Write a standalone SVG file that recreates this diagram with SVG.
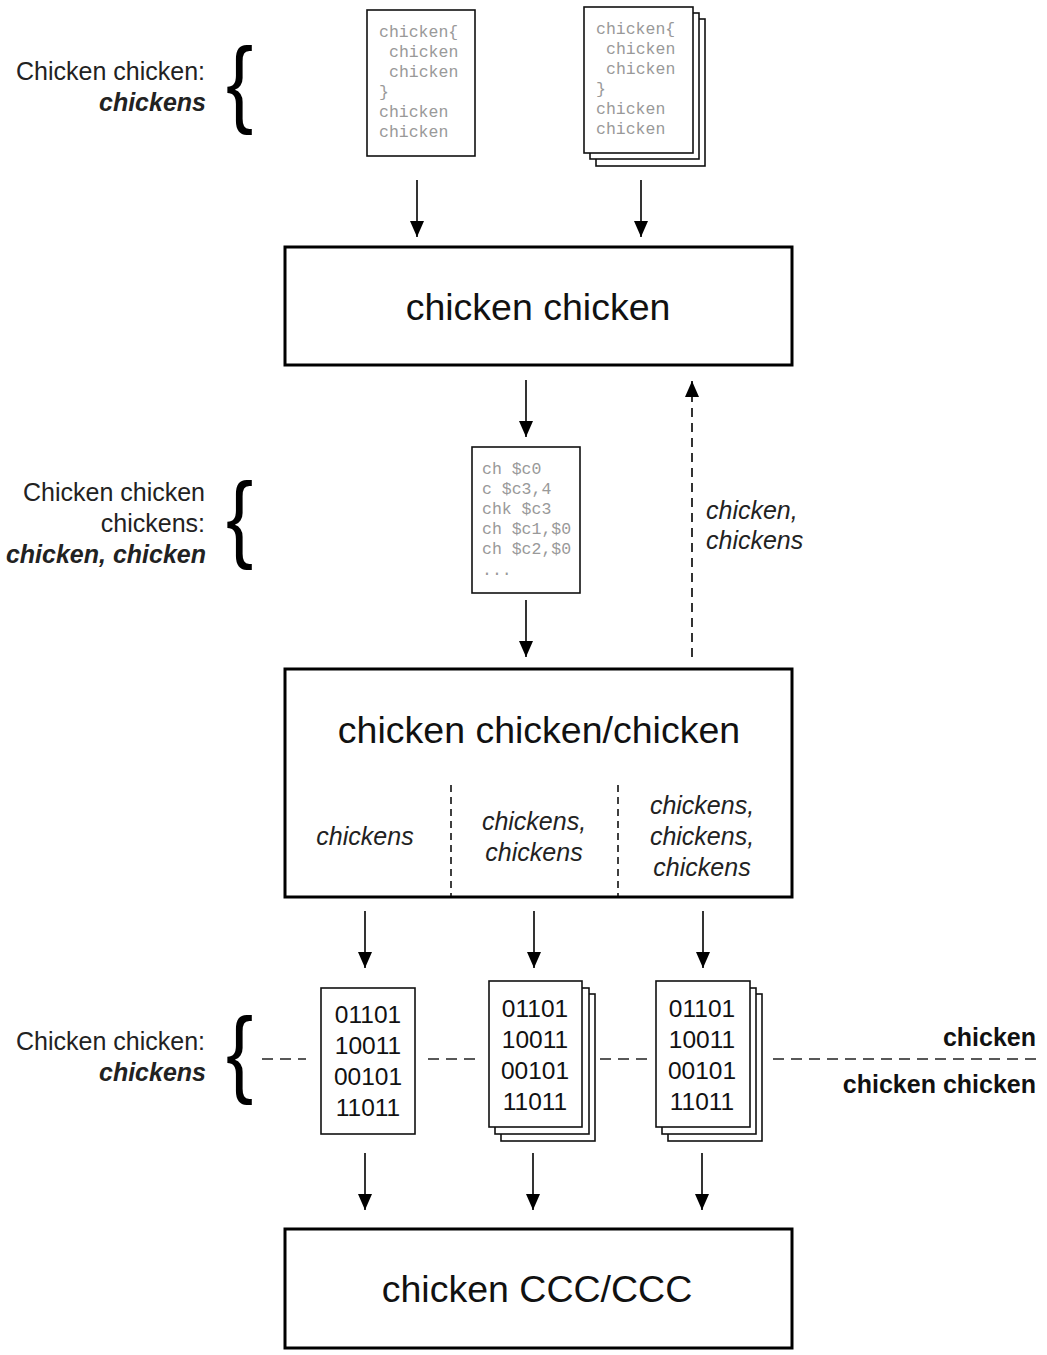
<svg xmlns="http://www.w3.org/2000/svg" width="1047" height="1355" viewBox="0 0 1047 1355">
<defs>
<marker id="ah" markerUnits="userSpaceOnUse" markerWidth="16" markerHeight="14" viewBox="0 0 16 14" refX="16" refY="7" orient="auto">
<path d="M0,0 L16,7 L0,14 z" fill="#000"/>
</marker>
<style>
.box{fill:#fff;stroke:#000;stroke-width:3}
.doc{fill:#fff;stroke:#111;stroke-width:1.6}
.arr{stroke:#000;stroke-width:1.6;fill:none;marker-end:url(#ah)}
.dash{stroke:#222;stroke-width:1.6;fill:none;stroke-dasharray:11,7}
.vd{stroke:#111;stroke-width:1.6;fill:none;stroke-dasharray:7,5}
.mono{font-family:"Liberation Mono","DejaVu Sans Mono",monospace;font-size:16.5px;fill:#999}
.title{font-family:"Liberation Sans",Arial,sans-serif;font-size:37.5px;fill:#111;text-anchor:middle}
.lbl{font-family:"Liberation Sans",Arial,sans-serif;font-size:25px;fill:#222;text-anchor:end}
.bi{font-weight:bold;font-style:italic}
.it{font-family:"Liberation Sans",Arial,sans-serif;font-size:25px;fill:#222;font-style:italic}
.bin{font-family:"Liberation Sans",Arial,sans-serif;font-size:24.5px;fill:#111;text-anchor:middle}
.bold{font-family:"Liberation Sans",Arial,sans-serif;font-size:25px;fill:#111;font-weight:bold;text-anchor:end}
.brace{font-family:"Liberation Sans",Arial,sans-serif;font-size:96px;fill:#000}
</style>
</defs>

<g id="labels-left">
<text class="lbl" x="205" y="80">Chicken chicken:</text>
<text class="lbl bi" x="206" y="111">chickens</text>
<text class="brace" transform="translate(226,115) scale(0.85,1)">{</text>

<text class="lbl" x="205" y="501">Chicken chicken</text>
<text class="lbl" x="205" y="532">chickens:</text>
<text class="lbl bi" x="206" y="563">chicken, chicken</text>
<text class="brace" transform="translate(226,550) scale(0.85,1)">{</text>

<text class="lbl" x="205" y="1050">Chicken chicken:</text>
<text class="lbl bi" x="206" y="1081">chickens</text>
<text class="brace" transform="translate(226,1085) scale(0.85,1)">{</text>
</g>

<g id="connectors">
<line class="arr" x1="417" y1="180" x2="417" y2="237"/>
<line class="arr" x1="641" y1="180" x2="641" y2="237"/>
<line class="arr" x1="526" y1="380" x2="526" y2="437"/>
<line class="arr" x1="526" y1="600" x2="526" y2="657"/>
<line class="arr" x1="692" y1="657" x2="692" y2="381" style="stroke-dasharray:9,6"/>
<line class="arr" x1="365" y1="911" x2="365" y2="968"/>
<line class="arr" x1="534" y1="911" x2="534" y2="968"/>
<line class="arr" x1="703" y1="911" x2="703" y2="968"/>
<line class="arr" x1="365" y1="1153" x2="365" y2="1210"/>
<line class="arr" x1="533" y1="1153" x2="533" y2="1210"/>
<line class="arr" x1="702" y1="1153" x2="702" y2="1210"/>
<line class="dash" x1="262" y1="1059" x2="306" y2="1059"/>
<line class="dash" x1="428" y1="1059" x2="480" y2="1059"/>
<line class="dash" x1="600" y1="1059" x2="648" y2="1059"/>
<line class="dash" x1="773" y1="1059" x2="1037" y2="1059"/>
<text class="it" x="706" y="519">chicken,</text>
<text class="it" x="706" y="549">chickens</text>
<text class="bold" x="1036" y="1046">chicken</text>
<text class="bold" x="1036" y="1093">chicken chicken</text>
</g>

<g id="src1">
<rect class="doc" x="367" y="10" width="108" height="146"/>
<text class="mono" x="379" y="37">chicken{</text>
<text class="mono" x="389" y="57">chicken</text>
<text class="mono" x="389" y="77">chicken</text>
<text class="mono" x="379" y="97">}</text>
<text class="mono" x="379" y="117">chicken</text>
<text class="mono" x="379" y="137">chicken</text>
</g>

<g id="src2">
<rect class="doc" x="596" y="19" width="109" height="147"/>
<rect class="doc" x="590" y="13" width="109" height="146"/>
<rect class="doc" x="584" y="7" width="109" height="146"/>
<text class="mono" x="596" y="34">chicken{</text>
<text class="mono" x="606" y="54">chicken</text>
<text class="mono" x="606" y="74">chicken</text>
<text class="mono" x="596" y="94">}</text>
<text class="mono" x="596" y="114">chicken</text>
<text class="mono" x="596" y="134">chicken</text>
</g>

<g id="box1">
<rect class="box" x="285" y="247" width="507" height="118"/>
<text class="title" x="538" y="320">chicken chicken</text>
</g>

<g id="asm">
<rect class="doc" x="472" y="447" width="108" height="146"/>
<text class="mono" x="482" y="474">ch $c0</text>
<text class="mono" x="482" y="494">c $c3,4</text>
<text class="mono" x="482" y="514">chk $c3</text>
<text class="mono" x="482" y="534">ch $c1,$0</text>
<text class="mono" x="482" y="554">ch $c2,$0</text>
<text class="mono" x="482" y="575">...</text>
</g>

<g id="box2">
<rect class="box" x="285" y="669" width="507" height="228"/>
<text class="title" x="539" y="743">chicken chicken/chicken</text>
<line class="vd" x1="451" y1="785" x2="451" y2="896"/>
<line class="vd" x1="618" y1="785" x2="618" y2="896"/>
<text class="it" x="365" y="845" text-anchor="middle">chickens</text>
<text class="it" x="534" y="830" text-anchor="middle">chickens,</text>
<text class="it" x="534" y="861" text-anchor="middle">chickens</text>
<text class="it" x="702" y="814" text-anchor="middle">chickens,</text>
<text class="it" x="702" y="845" text-anchor="middle">chickens,</text>
<text class="it" x="702" y="876" text-anchor="middle">chickens</text>
</g>

<g id="bin1">
<rect class="doc" x="321" y="988" width="94" height="146"/>
<text class="bin" x="368" y="1023">01101</text>
<text class="bin" x="368" y="1054">10011</text>
<text class="bin" x="368" y="1085">00101</text>
<text class="bin" x="368" y="1116">11011</text>
</g>

<g id="bin2">
<rect class="doc" x="501" y="994" width="94" height="147"/>
<rect class="doc" x="495" y="988" width="94" height="146"/>
<rect class="doc" x="489" y="981" width="93" height="146"/>
<text class="bin" x="535" y="1017">01101</text>
<text class="bin" x="535" y="1048">10011</text>
<text class="bin" x="535" y="1079">00101</text>
<text class="bin" x="535" y="1110">11011</text>
</g>

<g id="bin3">
<rect class="doc" x="668" y="994" width="94" height="147"/>
<rect class="doc" x="662" y="988" width="94" height="146"/>
<rect class="doc" x="656" y="981" width="94" height="146"/>
<text class="bin" x="702" y="1017">01101</text>
<text class="bin" x="702" y="1048">10011</text>
<text class="bin" x="702" y="1079">00101</text>
<text class="bin" x="702" y="1110">11011</text>
</g>

<g id="box3">
<rect class="box" x="285" y="1229" width="507" height="119"/>
<text class="title" x="537" y="1302">chicken CCC/CCC</text>
</g>
</svg>
